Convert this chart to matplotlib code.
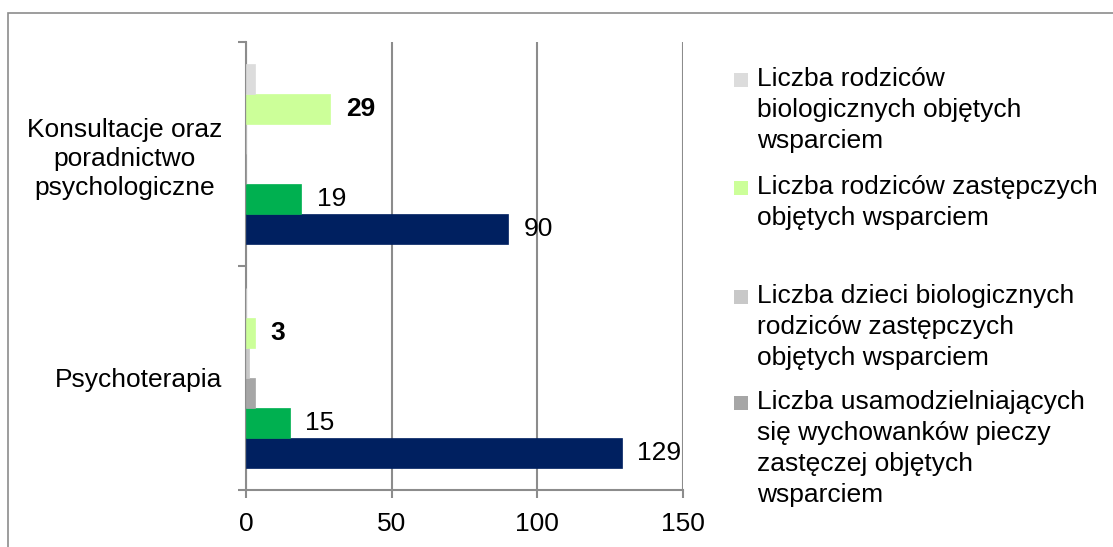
import matplotlib
matplotlib.use("Agg")
import matplotlib.pyplot as plt
from matplotlib.patches import Rectangle
import numpy as np

plt.rcParams["font.family"] = ["Liberation Sans", "DejaVu Sans"]

# Categories listed bottom-to-top on the value axis
categories = ["Psychoterapia", "Konsultacje oraz\nporadnictwo\npsychologiczne"]

# Series in drawing order (first = lowest bar within each category)
series_names = [
    "Liczba dzieci umieszczonych w pieczy zastępczej objętych wsparciem",
    "Liczba wychowanków pieczy zastępczej objętych wsparciem",
    "Liczba usamodzielniających\nsię wychowanków pieczy\nzastęczej objętych\nwsparciem",
    "Liczba dzieci biologicznych\nrodziców zastępczych\nobjętych wsparciem",
    "Liczba rodziców zastępczych\nobjętych wsparciem",
    "Liczba rodziców\nbiologicznych objętych\nwsparciem",
]
navy_vals = [129, 90]
green_vals = [15, 19]
independent_vals = [3, 0]
bio_children_vals = [1, 0]
foster_parent_vals = [3, 29]
bio_parent_vals = [0, 3]

series_values = [navy_vals, green_vals, independent_vals,
                 bio_children_vals, foster_parent_vals, bio_parent_vals]
series_colors = ["#002060", "#00B050", "#A6A6A6", "#C8C8C8", "#CCFF99", "#DCDCDC"]
label_style = ["normal", "normal", None, None, "bold", None]

x_ticks = [0, 50, 100, 150]

FS = 19

fig = plt.figure(figsize=(11.13, 5.47), dpi=100)
ax = fig.add_axes([246 / 1113, 1 - 490 / 547, 437 / 1113, 448 / 547])

n = len(series_values)
h = 30 / 224
y = np.arange(len(categories))
for i, (vals, col, style) in enumerate(zip(series_values, series_colors, label_style)):
    off = (i - (n - 1) / 2) * h
    bars = ax.barh(y + off, vals, height=h, color=col, edgecolor=col,
                   linewidth=0.5, zorder=3)
    if style is not None:
        ax.bar_label(bars, labels=[str(v) for v in vals], padding=11,
                     fontsize=FS, fontweight=style, color="black")

gcol = "#8C8C8C"
ax.set_xlim(0, 150)
ax.set_ylim(-0.5, 1.5)
ax.set_xticks(x_ticks)
ax.set_xticklabels([str(t) for t in x_ticks], fontsize=FS)
ax.xaxis.grid(True, color=gcol, linewidth=1.5, zorder=0)
ax.set_axisbelow(True)

ax.set_yticks([-0.5, 0.5, 1.5])
ax.set_yticklabels([])
ax.set_yticks(y, minor=True)
ax.set_yticklabels(categories, minor=True, fontsize=FS,
                   multialignment="center", linespacing=1.25)
ax.tick_params(axis="y", which="minor", length=0, pad=17)
ax.tick_params(axis="y", which="major", length=6, width=1.5, color=gcol)
ax.tick_params(axis="x", length=6, width=1.5, color=gcol, pad=10)

for s in ("top", "right"):
    ax.spines[s].set_visible(False)
for s in ("left", "bottom"):
    ax.spines[s].set_color(gcol)
    ax.spines[s].set_linewidth(1.5)

# Legend (last series first), drawn beside the plot
legend_order = [5, 4, 3, 2]
legend_centers = [80, 188, 297, 403]
for idx, yc in zip(legend_order, legend_centers):
    yf = 1 - yc / 547
    fig.patches.append(Rectangle((734 / 1113, yf - 7 / 547), 14 / 1113, 14 / 547,
                                 transform=fig.transFigure,
                                 facecolor=series_colors[idx], edgecolor="none"))
    fig.text(757 / 1113, 1 - (yc - 13) / 547, series_names[idx], fontsize=FS,
             ha="left", va="top", linespacing=1.36)

# Chart-area frame
top = 1 - 13 / 547
fig.patches.append(Rectangle((8 / 1113, -0.2), 1.2, top + 0.2,
                             transform=fig.transFigure, fill=False,
                             edgecolor="#8C8C8C", linewidth=1.2))

fig.savefig("out.png", dpi=100)
